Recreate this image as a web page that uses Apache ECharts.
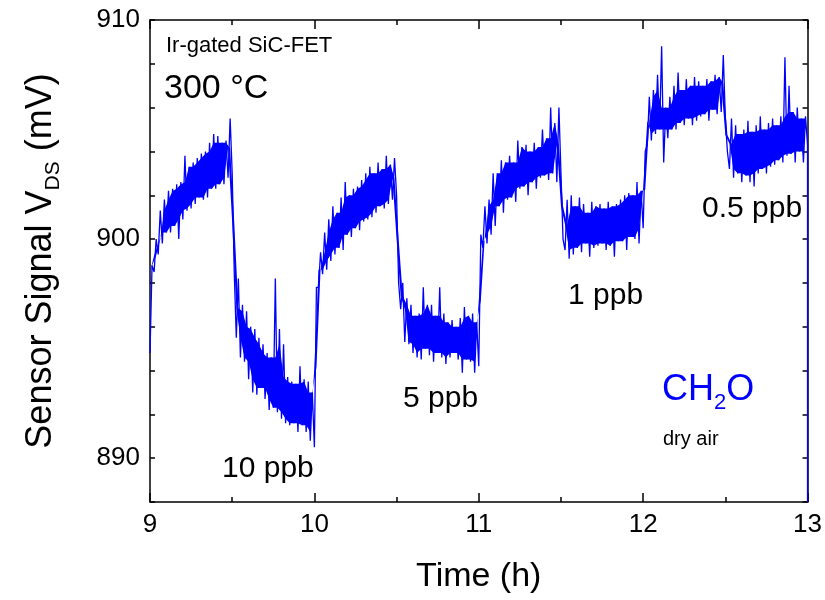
<!DOCTYPE html>
<html>
<head>
<meta charset="utf-8">
<script src="https://cdn.jsdelivr.net/npm/echarts@6/dist/echarts.min.js"></script>
<style>
html,body{margin:0;padding:0;background:#fff;}
#chart{width:825px;height:600px;}
</style>
</head>
<body>
<div id="chart"></div>
<script>
// Sampling times (h); each step has two readings: vA at the step start, vB half a step later
const timeH = [
9.000,9.025,9.050,9.075,9.100,9.125,9.150,9.175,9.200,9.225,
9.250,9.275,9.300,9.325,9.350,9.375,9.400,9.425,9.450,9.475,
9.500,9.525,9.550,9.575,9.600,9.625,9.650,9.675,9.700,9.725,
9.750,9.775,9.800,9.825,9.850,9.875,9.900,9.925,9.950,9.975,
10.000,10.025,10.050,10.075,10.100,10.125,10.150,10.175,10.200,10.225,
10.250,10.275,10.300,10.325,10.350,10.375,10.400,10.425,10.450,10.475,
10.500,10.525,10.550,10.575,10.600,10.625,10.650,10.675,10.700,10.725,
10.750,10.775,10.800,10.825,10.850,10.875,10.900,10.925,10.950,10.975,
11.000,11.025,11.050,11.075,11.100,11.125,11.150,11.175,11.200,11.225,
11.250,11.275,11.300,11.325,11.350,11.375,11.400,11.425,11.450,11.475,
11.500,11.525,11.550,11.575,11.600,11.625,11.650,11.675,11.700,11.725,
11.750,11.775,11.800,11.825,11.850,11.875,11.900,11.925,11.950,11.975,
12.000,12.025,12.050,12.075,12.100,12.125,12.150,12.175,12.200,12.225,
12.250,12.275,12.300,12.325,12.350,12.375,12.400,12.425,12.450,12.475,
12.500,12.525,12.550,12.575,12.600,12.625,12.650,12.675,12.700,12.725,
12.750,12.775,12.800,12.825,12.850,12.875,12.900,12.925,12.950,12.975
];
const halfStepH = 0.0125;
const vA = [
894.8,898.5,899.3,899.8,900.3,900.3,900.6,900.0,900.9,901.3,
901.4,901.6,901.9,901.8,901.9,902.3,902.3,902.5,902.5,902.8,
903.0,895.5,894.6,894.4,893.6,893.0,892.9,893.2,892.7,892.2,
892.3,892.1,891.8,891.6,891.5,891.6,891.2,891.5,891.2,890.8,
890.5,897.8,898.4,898.6,899.0,899.3,899.6,899.5,900.2,900.1,
900.5,900.4,900.8,900.9,901.0,901.2,901.5,901.4,901.6,901.8,
902.0,896.8,895.3,895.2,894.8,894.6,894.5,895.0,894.7,894.4,
894.8,894.6,894.3,894.6,894.8,894.5,893.9,894.5,894.4,893.9,
894.2,899.6,899.8,900.2,900.6,901.5,901.2,901.8,901.9,901.7,
902.3,902.4,902.0,902.6,902.3,902.8,902.9,902.7,903.0,902.6,
903.0,899.5,899.1,899.3,899.6,899.4,899.8,899.2,899.6,899.7,
899.8,899.5,899.7,899.2,899.9,899.9,899.5,900.1,900.0,899.8,
900.5,904.3,904.5,904.8,905.0,903.5,904.6,905.0,905.0,905.3,
905.2,905.5,905.2,905.4,905.6,905.7,905.4,905.9,905.7,905.8,
905.5,903.2,902.8,903.0,902.6,902.9,902.6,902.4,903.0,903.2,
903.0,903.3,903.4,903.6,903.5,903.8,903.9,903.5,904.0,903.5
];
const vB = [
898.8,900.0,901.3,901.8,902.2,902.3,902.5,902.6,903.8,903.3,
903.5,903.7,903.9,904.0,904.4,904.8,904.7,904.4,904.5,905.5,
898.5,898.2,897.0,896.7,896.0,895.9,895.5,895.2,894.8,894.6,
898.2,895.9,895.2,893.7,893.5,893.4,894.2,893.6,893.5,893.0,
897.8,899.4,900.3,900.9,901.5,901.2,901.9,902.6,902.0,902.3,
902.4,902.7,903.0,903.3,903.0,903.5,903.2,903.8,903.4,903.7,
898.0,898.0,897.3,897.0,896.5,896.6,897.8,897.0,897.0,896.5,
897.8,896.6,896.2,896.3,896.0,896.4,896.9,896.5,896.6,896.2,
900.2,901.5,901.8,903.0,903.0,903.6,903.5,903.8,903.5,904.5,
904.2,904.3,904.0,904.4,904.2,905.0,904.6,906.0,905.3,906.0,
900.0,901.8,902.0,901.5,901.9,901.6,901.2,901.7,901.5,901.6,
901.4,901.7,901.5,901.6,901.8,902.0,902.1,902.0,902.6,902.2,
904.0,906.5,906.8,907.5,908.8,906.0,906.5,907.0,907.6,906.8,
907.3,907.0,907.4,907.2,907.0,907.3,907.2,907.5,907.4,908.4,
904.0,905.5,905.2,904.8,905.0,905.4,904.9,905.2,905.6,905.0,
905.3,905.5,905.2,905.6,908.3,907.0,905.8,906.0,905.5,905.6
];
// end of record: last reading, then signal falls to the bottom of the plot at 13 h
const tailTimeH = [13.0, 13.0];
const tailMv = [904.3, 888];

const xTicks = [9, 10, 11, 12, 13];
const yLabelValues = [890, 900, 910];

const traceData = [];
for (let i = 0; i < timeH.length; i++) {
  traceData.push([timeH[i], vA[i]]);
  traceData.push([timeH[i] + halfStepH, vB[i]]);
}
for (let i = 0; i < tailTimeH.length; i++) traceData.push([tailTimeH[i], tailMv[i]]);

// solid core of the noise band: the range shared by neighbouring readings
const coreUpper = [], coreLower = [];
for (let i = 0; i < timeH.length; i++) {
  const j0 = Math.max(0, i - 1), j1 = Math.min(timeH.length - 1, i + 1);
  let hi = Infinity, lo = -Infinity;
  for (let j = j0; j <= j1; j++) { hi = Math.min(hi, vB[j]); lo = Math.max(lo, vA[j]); }
  if (hi < lo) { hi = lo = (vA[i] + vB[i]) / 2; }
  coreUpper.push(hi); coreLower.push(lo);
}

const F = '"Liberation Sans", Arial, Helvetica, sans-serif';
const black = '#000';
const blue = '#0000ff';

function xAx(pos, showLabel) {
  return {
    type: 'value', position: pos, min: xTicks[0], max: xTicks[xTicks.length - 1], interval: 1,
    axisLine: { show: true, onZero: false, lineStyle: { color: black, width: 1.5 } },
    axisTick: { show: true, inside: true, length: 9, lineStyle: { color: black, width: 1.5 } },
    minorTick: { show: true, splitNumber: 2, length: 5, lineStyle: { color: black, width: 1.5 } },
    splitLine: { show: false },
    axisLabel: { show: showLabel, fontSize: 26, fontFamily: F, color: black, margin: 10 },
    name: showLabel ? 'Time (h)' : '',
    nameLocation: 'middle', nameGap: 58,
    nameTextStyle: { fontSize: 34, fontFamily: F, color: black }
  };
}
function yAx(pos, showLabel) {
  return {
    type: 'value', position: pos, min: 888, max: 910, interval: 2,
    axisLine: { show: true, onZero: false, lineStyle: { color: black, width: 1.5 } },
    axisTick: { show: true, inside: true, length: 5, lineStyle: { color: black, width: 1.5 } },
    splitLine: { show: false },
    axisLabel: {
      show: showLabel, fontSize: 26, fontFamily: F, color: black, margin: 10,
      formatter: v => (yLabelValues.indexOf(v) >= 0 ? String(v) : '')
    },
    name: showLabel ? '{m|Sensor Signal V}{s|DS}{m| (mV)}' : '',
    nameLocation: 'middle', nameGap: 86,
    nameTextStyle: {
      fontSize: 36, fontFamily: F, color: black,
      rich: {
        m: { fontSize: 36, fontFamily: F, color: black, lineHeight: 41, verticalAlign: 'top' },
        s: { fontSize: 21, fontFamily: F, color: black, lineHeight: 21, verticalAlign: 'bottom' }
      }
    }
  };
}

const chart = echarts.init(document.getElementById('chart'), null, { renderer: 'canvas' });
chart.setOption({
  animation: false,
  backgroundColor: '#fff',
  grid: { left: 150, right: 17, top: 20, bottom: 98, containLabel: false },
  xAxis: [xAx('bottom', true), xAx('top', false)],
  yAxis: [yAx('left', true), yAx('right', false)],
  series: [
    {
      type: 'custom', xAxisIndex: 0, yAxisIndex: 0, silent: true,
      data: [[timeH[0], vA[0]]],
      renderItem: function (params, api) {
        const pts = [];
        for (let i = 0; i < timeH.length; i++) pts.push(api.coord([timeH[i] + halfStepH, coreUpper[i]]));
        for (let i = timeH.length - 1; i >= 0; i--) pts.push(api.coord([timeH[i], coreLower[i]]));
        return { type: 'polygon', shape: { points: pts }, style: { fill: blue, stroke: null } };
      }
    },
    {
      type: 'line', xAxisIndex: 0, yAxisIndex: 0,
      data: traceData, showSymbol: false, symbol: 'none', clip: false,
      lineStyle: { color: blue, width: 1.3 }, sampling: false
    }
  ],
  graphic: [
    { type: 'text', left: 166, top: 35, style: { text: 'Ir-gated SiC-FET', fontSize: 22, fontFamily: F, fill: black } },
    { type: 'text', left: 164, top: 72, style: { text: '300 °C', fontSize: 34, fontFamily: F, fill: black } },
    { type: 'text', left: 222, top: 454, style: { text: '10 ppb', fontSize: 30, fontFamily: F, fill: black } },
    { type: 'text', left: 403, top: 384, style: { text: '5 ppb', fontSize: 30, fontFamily: F, fill: black } },
    { type: 'text', left: 568, top: 281, style: { text: '1 ppb', fontSize: 30, fontFamily: F, fill: black } },
    { type: 'text', left: 702, top: 194, style: { text: '0.5 ppb', fontSize: 30, fontFamily: F, fill: black } },
    { type: 'text', left: 662, top: 372, style: {
        text: '{m|CH}{s|2}{m|O}', fontFamily: F, fill: blue,
        rich: {
          m: { fontSize: 36, fontFamily: F, fill: blue, lineHeight: 42, verticalAlign: 'top' },
          s: { fontSize: 22, fontFamily: F, fill: blue, lineHeight: 22, verticalAlign: 'bottom' }
        } } },
    { type: 'text', left: 663, top: 429, style: { text: 'dry air', fontSize: 20, fontFamily: F, fill: black } }
  ]
});
</script>
</body>
</html>
